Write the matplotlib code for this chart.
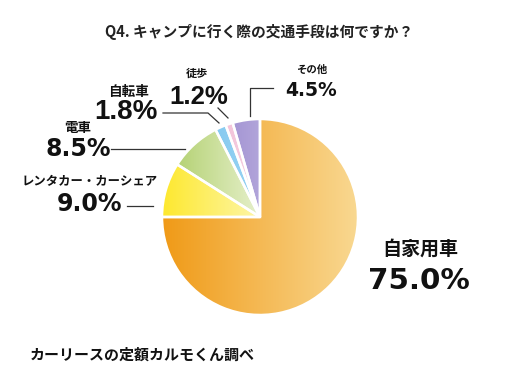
import numpy as np
import matplotlib.pyplot as plt
from matplotlib.colors import LinearSegmentedColormap

plt.rcParams['font.family'] = ['Noto Sans CJK JP', 'DejaVu Sans']

labels = ['自家用車', 'レンタカー・カーシェア', '電車', '自転車', '徒歩', 'その他']
values = [75.0, 9.0, 8.5, 1.8, 1.2, 4.5]
pct_text = ['75.0%', '9.0%', '8.5%', '1.8%', '1.2%', '4.5%']
grad = [('#F09A17', '#F9D891'), ('#FDE82E', '#FEF6A8'), ('#B5D275', '#E6F0CB'),
        ('#86CAF0', '#9DD5F3'), ('#F3C4DA', '#F6D2E2'), ('#A596D4', '#B2A5DA')]

W, H = 518, 378
fig = plt.figure(figsize=(W / 100, H / 100), dpi=100)
ax = fig.add_axes([0, 0, 1, 1])
ax.set_xlim(0, W)
ax.set_ylim(0, H)
ax.set_aspect('equal')
ax.axis('off')

cx, cy, r = 260, H - 217, 98
wedges, _ = ax.pie(values, center=(cx, cy), radius=r, startangle=90, counterclock=False,
                   wedgeprops=dict(edgecolor='white', linewidth=1.8))
ax.set_xlim(0, W)
ax.set_ylim(0, H)

for w, (c0, c1) in zip(wedges, grad):
    bb = w.get_path().get_extents(w.get_patch_transform())
    cmap = LinearSegmentedColormap.from_list('g', [c0, c1])
    img = ax.imshow(np.linspace(0, 1, 256).reshape(1, -1), cmap=cmap, aspect='auto',
                    extent=[bb.x0, bb.x1, bb.y0, bb.y1], zorder=w.get_zorder() - 0.1)
    img.set_clip_path(w)
    w.set_facecolor('none')
    w.set_zorder(3)

def y(v):
    return H - v

ax.text(259, y(32), 'Q4. キャンプに行く際の交通手段は何ですか？', ha='center', va='center',
        fontsize=10.6, fontweight='bold', color='#222222')

# label x, label y, label size, pct x, pct y, pct size, pct font
lab_pos = [(420, 249, 13.7, 419, 281, 21.2, 'DejaVu Sans'),
           (90, 182, 8.9, 90, 204, 17, 'DejaVu Sans'),
           (78, 128, 9.7, 78, 149, 17, 'DejaVu Sans'),
           (128, 92, 9.8, 126, 112, 20, 'Liberation Sans'),
           (197, 73, 8, 199, 97, 18.5, 'Liberation Sans'),
           (312, 70, 7.5, 311, 90, 13.5, 'DejaVu Sans')]
for lab, pt, (lx, ly, ls, px, py, ps, pf) in zip(labels, pct_text, lab_pos):
    ax.text(lx, y(ly), lab, ha='center', va='center', fontsize=ls, fontweight='bold', color='#111111')
    ax.text(px, y(py), pt, ha='center', va='center', fontsize=ps, fontweight='bold',
            family=[pf, 'DejaVu Sans'], color='#111111')

# leader lines
lk = dict(color='#333333', lw=0.9)
ax.plot([127, 153], [y(206), y(206)], **lk)
ax.plot([111, 185], [y(149), y(149)], **lk)
ax.plot([163, 208, 219], [y(113), y(113), y(123)], **lk)
ax.plot([218, 228], [y(108), y(118)], **lk)
ax.plot([273, 250, 250], [y(88), y(88), y(116)], **lk)

ax.text(30, y(355), 'カーリースの定額カルモくん調べ', ha='left', va='center',
        fontsize=10.8, fontweight='bold', color='#111111')

fig.savefig('out.png', dpi=100)
